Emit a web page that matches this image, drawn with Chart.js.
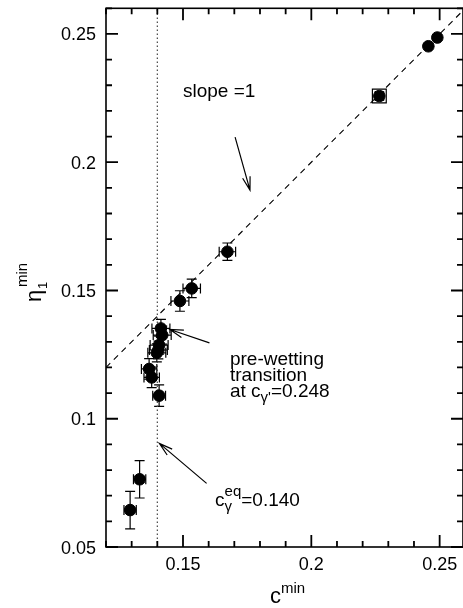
<!DOCTYPE html>
<html>
<head>
<meta charset="utf-8">
<script src="https://cdn.jsdelivr.net/npm/chart.js@4/dist/chart.umd.min.js"></script>
<style>
html, body { margin: 0; padding: 0; overflow: hidden; background: #fff; }
canvas { display: block; }
</style>
</head>
<body>
<canvas id="chart" width="463" height="608"></canvas>
<script>
// data: c^min, eta_1^min and their error bars
const cMin    = [0.1294, 0.1331, 0.1407, 0.1378, 0.1368, 0.1398, 0.1404, 0.1407, 0.1419, 0.1414, 0.1488, 0.1534, 0.1673, 0.2265, 0.2456, 0.2491];
const etaMin  = [0.0644, 0.0764, 0.1090, 0.1161, 0.1194, 0.1257, 0.1268, 0.1287, 0.1326, 0.1352, 0.1459, 0.1508, 0.1651, 0.2258, 0.2452, 0.2486];
const cErr    = [0.0024, 0.0024, 0.0025, 0.0030, 0.0030, 0.0035, 0.0035, 0.0035, 0.0035, 0.0035, 0.0035, 0.0034, 0.0032, 0.0015, 0.0010, 0.0010];
const etaErr  = [0.0073, 0.0073, 0.0042, 0.0040, 0.0040, 0.0035, 0.0035, 0.0035, 0.0035, 0.0035, 0.0040, 0.0036, 0.0034, 0.0015, 0.0010, 0.0010];
const boxedIndex = [13];

const xTicks = [0.15, 0.2, 0.25];
const yTicks = [0.05, 0.1, 0.15, 0.2, 0.25];
const xRange = [0.12, 0.2591];
const yRange = [0.05, 0.26];
const cEq = 0.140;

const FONT = '"Liberation Sans", Arial, Helvetica, sans-serif';
Chart.defaults.font.family = FONT;
Chart.defaults.color = '#000';

const points = cMin.map((x, i) => ({ x: x, y: etaMin[i] }));

function rich(ctx, x, y, parts) {
  let cx = x, held = 0;
  parts.forEach(p => {
    ctx.font = p.size + 'px ' + FONT;
    ctx.fillText(p.t, cx, y + (p.dy || 0));
    const w = ctx.measureText(p.t).width;
    if (p.hold) { held = w; }
    else { cx += Math.max(w, held); held = 0; }
  });
}

function arrow(ctx, x1, y1, x2, y2) {
  const a = Math.atan2(y2 - y1, x2 - x1), L = 14, h = 0.28;
  ctx.beginPath();
  ctx.moveTo(x1, y1); ctx.lineTo(x2, y2);
  ctx.moveTo(x2 - L * Math.cos(a - h), y2 - L * Math.sin(a - h));
  ctx.lineTo(x2, y2);
  ctx.lineTo(x2 - L * Math.cos(a + h), y2 - L * Math.sin(a + h));
  ctx.stroke();
}

const decor = {
  id: 'decor',
  beforeDatasetsDraw(chart) {
    const { ctx, scales: { x, y } } = chart;
    ctx.save();
    ctx.strokeStyle = '#000';
    ctx.lineWidth = 1.2;
    const cap = 5;
    cMin.forEach((cv, i) => {
      const px = x.getPixelForValue(cv), py = y.getPixelForValue(etaMin[i]);
      const xl = x.getPixelForValue(cv - cErr[i]), xr = x.getPixelForValue(cv + cErr[i]);
      const yt = y.getPixelForValue(etaMin[i] + etaErr[i]), yb = y.getPixelForValue(etaMin[i] - etaErr[i]);
      ctx.beginPath();
      ctx.moveTo(xl, py); ctx.lineTo(xr, py);
      ctx.moveTo(xl, py - cap); ctx.lineTo(xl, py + cap);
      ctx.moveTo(xr, py - cap); ctx.lineTo(xr, py + cap);
      ctx.moveTo(px, yt); ctx.lineTo(px, yb);
      ctx.moveTo(px - cap, yt); ctx.lineTo(px + cap, yt);
      ctx.moveTo(px - cap, yb); ctx.lineTo(px + cap, yb);
      ctx.stroke();
    });
    ctx.restore();
  },
  afterDraw(chart) {
    const { ctx, chartArea: a, scales: { x, y } } = chart;
    const X = v => x.getPixelForValue(v), Y = v => y.getPixelForValue(v);
    ctx.save();
    ctx.strokeStyle = '#000';
    ctx.fillStyle = '#000';
    ctx.lineWidth = 1.6;
    ctx.strokeRect(a.left, a.top, a.right - a.left, a.bottom - a.top);

    // inward major / minor ticks on all four sides
    ctx.lineWidth = 1.8;
    ctx.setLineDash([]);
    for (let k = 12; k <= 26; k++) {
      const px = X(k / 100);
      const len = k % 5 === 0 ? 12 : 6;
      ctx.beginPath();
      ctx.moveTo(px, a.bottom); ctx.lineTo(px, a.bottom - len);
      ctx.moveTo(px, a.top); ctx.lineTo(px, a.top + len);
      ctx.stroke();
    }
    for (let k = 5; k <= 26; k++) {
      const py = Y(k / 100);
      const len = k % 5 === 0 ? 12 : 6;
      ctx.beginPath();
      ctx.moveTo(a.left, py); ctx.lineTo(a.left + len, py);
      ctx.moveTo(a.right, py); ctx.lineTo(a.right - len, py);
      ctx.stroke();
    }

    // tick labels
    ctx.font = '18px ' + FONT;
    ctx.textBaseline = 'alphabetic';
    ctx.textAlign = 'center';
    xTicks.forEach(v => ctx.fillText(String(v), X(v), a.bottom + 23));
    ctx.textAlign = 'right';
    yTicks.forEach(v => ctx.fillText(String(v), a.left - 10, Y(v) + 6.5));

    // annotations
    ctx.textAlign = 'left';
    ctx.lineWidth = 1.2;
    rich(ctx, X(0.1500), Y(0.2256), [{ t: 'slope =1', size: 19 }]);
    arrow(ctx, X(0.1703), Y(0.2098), X(0.1761), Y(0.1891));

    const tx = X(0.1683), ty = Y(0.1209);
    rich(ctx, tx, ty, [{ t: 'pre-wetting', size: 19 }]);
    rich(ctx, tx, ty + 16, [{ t: 'transition', size: 19 }]);
    rich(ctx, tx, ty + 32, [{ t: 'at c', size: 19 }, { t: 'γ\'', size: 15, dy: 5 }, { t: '=0.248', size: 19 }]);
    arrow(ctx, X(0.1603), Y(0.1296), X(0.1449), Y(0.1348));

    rich(ctx, X(0.1625), Y(0.0660), [{ t: 'c', size: 19 }, { t: 'eq', size: 15, dy: -10, hold: true }, { t: 'γ', size: 15, dy: 5 }, { t: '=0.140', size: 19 }]);
    arrow(ctx, X(0.1592), Y(0.0748), X(0.1408), Y(0.0904));

    // axis titles
    rich(ctx, 270, 603, [{ t: 'c', size: 22 }, { t: 'min', size: 15, dy: -10 }]);
    ctx.translate(41, 302);
    ctx.rotate(-Math.PI / 2);
    rich(ctx, 0, 0, [{ t: 'η', size: 22 }]);
    rich(ctx, 13, 5.5, [{ t: '1', size: 13 }]);
    rich(ctx, 15, -14, [{ t: 'min', size: 15 }]);
    ctx.restore();
  }
};

new Chart(document.getElementById('chart'), {
  type: 'scatter',
  data: {
    datasets: [
      {
        label: 'data',
        data: points,
        backgroundColor: '#000',
        borderColor: '#000',
        pointRadius: 5.8,
        pointHoverRadius: 5.8,
        order: 0
      },
      {
        label: 'box',
        data: boxedIndex.map(i => points[i]),
        pointStyle: 'rect',
        pointRadius: 9.8,
        backgroundColor: 'rgba(0,0,0,0)',
        borderColor: '#000',
        borderWidth: 1.2,
        order: 1
      },
      {
        label: 'slope 1',
        data: [{ x: xRange[0], y: xRange[0] }, { x: xRange[1], y: xRange[1] }],
        showLine: true,
        borderColor: '#000',
        borderWidth: 1.1,
        borderDash: [6, 5],
        pointRadius: 0,
        order: 2
      },
      {
        label: 'c eq',
        data: [{ x: cEq, y: yRange[0] }, { x: cEq, y: yRange[1] }],
        showLine: true,
        borderColor: '#444',
        borderWidth: 1.2,
        borderDash: [1.5, 2.5],
        pointRadius: 0,
        order: 3
      }
    ]
  },
  options: {
    responsive: false,
    animation: false,
    layout: { autoPadding: false, padding: { top: 8.3, right: 0, left: 0, bottom: 0 } },
    plugins: { legend: { display: false }, tooltip: { enabled: false } },
    scales: {
      x: {
        type: 'linear',
        min: xRange[0], max: xRange[1],
        grid: { display: false, drawTicks: false },
        border: { display: false },
        ticks: { display: false },
        afterFit: s => { s.height = 61; }
      },
      y: {
        type: 'linear',
        min: yRange[0], max: yRange[1],
        grid: { display: false, drawTicks: false },
        border: { display: false },
        ticks: { display: false },
        afterFit: s => { s.width = 106; }
      }
    }
  },
  plugins: [decor]
});
</script>
</body>
</html>
